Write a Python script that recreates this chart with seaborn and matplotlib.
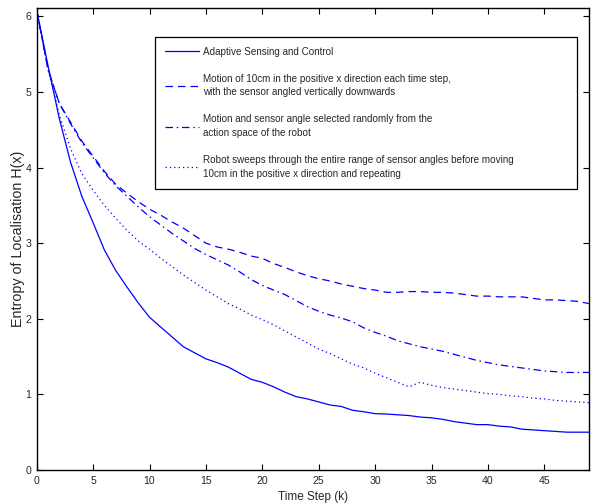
import numpy as np
import pandas as pd
import matplotlib
matplotlib.use("Agg")
import matplotlib.pyplot as plt
from matplotlib import font_manager
import seaborn as sns

steps = list(range(50))

adaptive = [6.08, 5.35, 4.65, 4.07, 3.62, 3.27, 2.91, 2.64, 2.42, 2.21,
            2.02, 1.89, 1.76, 1.63, 1.55, 1.47, 1.42, 1.36, 1.28, 1.20,
            1.16, 1.10, 1.03, 0.97, 0.94, 0.90, 0.86, 0.84, 0.79, 0.77,
            0.745, 0.74, 0.73, 0.72, 0.70, 0.69, 0.67, 0.64, 0.62, 0.60,
            0.60, 0.58, 0.57, 0.54, 0.53, 0.52, 0.51, 0.50, 0.50, 0.50]

vertical = [6.08, 5.30, 4.85, 4.60, 4.35, 4.15, 3.95, 3.78, 3.66, 3.55,
            3.45, 3.37, 3.28, 3.20, 3.10, 3.00, 2.95, 2.92, 2.88, 2.83,
            2.80, 2.73, 2.68, 2.62, 2.57, 2.53, 2.50, 2.46, 2.43, 2.40,
            2.38, 2.35, 2.35, 2.36, 2.36, 2.35, 2.35, 2.34, 2.32, 2.30,
            2.30, 2.29, 2.29, 2.29, 2.27, 2.25, 2.25, 2.24, 2.23, 2.20]

random_sel = [6.08, 5.30, 4.85, 4.58, 4.33, 4.13, 3.93, 3.76, 3.62, 3.48,
              3.35, 3.24, 3.13, 3.03, 2.93, 2.85, 2.78, 2.71, 2.62, 2.52,
              2.44, 2.38, 2.32, 2.24, 2.16, 2.10, 2.05, 2.01, 1.96, 1.88,
              1.82, 1.77, 1.71, 1.67, 1.63, 1.60, 1.57, 1.53, 1.49, 1.45,
              1.42, 1.39, 1.37, 1.35, 1.33, 1.31, 1.30, 1.29, 1.29, 1.29]

sweep = [6.08, 5.30, 4.70, 4.25, 3.92, 3.70, 3.50, 3.33, 3.17, 3.03,
         2.92, 2.80, 2.69, 2.58, 2.48, 2.38, 2.29, 2.20, 2.13, 2.05,
         1.99, 1.92, 1.84, 1.76, 1.68, 1.60, 1.54, 1.47, 1.40, 1.35,
         1.28, 1.22, 1.16, 1.10, 1.16, 1.12, 1.09, 1.07, 1.05, 1.03,
         1.01, 1.00, 0.98, 0.97, 0.95, 0.94, 0.92, 0.91, 0.90, 0.89]

labels = [
    "Adaptive Sensing and Control",
    "Motion of 10cm in the positive x direction each time step,\nwith the sensor angled vertically downwards",
    "Motion and sensor angle selected randomly from the\naction space of the robot",
    "Robot sweeps through the entire range of sensor angles before moving\n10cm in the positive x direction and repeating",
]
xticks = [0, 5, 10, 15, 20, 25, 30, 35, 40, 45]
yticks = [0, 1, 2, 3, 4, 5, 6]

sns.set_theme(style="ticks")
plt.rcParams['font.family'] = ['Liberation Sans', 'DejaVu Sans']
plt.rcParams['xtick.direction'] = 'in'
plt.rcParams['ytick.direction'] = 'in'

try:
    font_manager.findfont('Liberation Sans Narrow', fallback_to_default=False)
    narrow = True
except Exception:
    narrow = False

if narrow:
    hfam = ['Liberation Sans Narrow', 'Liberation Sans']
    tick_fs, xlab_fs, leg_fs = 8.5, 10, 8.7
else:
    hfam = ['Liberation Sans', 'DejaVu Sans']
    tick_fs, xlab_fs, leg_fs = 7.6, 8.5, 7.15

fig = plt.figure(figsize=(5.99, 5.04), dpi=100)
ax = fig.add_axes([0.0613, 0.0675, 0.9227, 0.9165])

series = [adaptive, vertical, random_sel, sweep]
styles = ['-', (0, (6, 4)), (0, (6, 3, 1.2, 3)), (0, (1, 2.5))]
for vals, lab, ls in zip(series, labels, styles):
    sns.lineplot(x=steps, y=vals, ax=ax, color='#0000ff', linewidth=0.9,
                 linestyle=ls, label=lab)

ax.set_xlim(0, 49)
ax.set_ylim(0, 6.11)
ax.set_xticks(xticks)
ax.set_yticks(yticks)
ax.tick_params(axis='both', which='both', top=True, right=True, length=4,
               width=0.8, color='black', pad=4)
for lab in ax.get_xticklabels() + ax.get_yticklabels():
    lab.set_family(hfam)
    lab.set_fontsize(tick_fs)
for s in ax.spines.values():
    s.set_linewidth(1.0)
    s.set_color('black')
ax.set_xlabel("Time Step (k)", fontsize=xlab_fs, labelpad=4, family=hfam)
ax.set_ylabel("Entropy of Localisation H(x)", fontsize=10.3, labelpad=0)

leg = ax.legend(loc='upper left', bbox_to_anchor=(0.214, 0.5, 0.763, 0.438),
                mode='expand', prop={'family': hfam, 'size': leg_fs},
                frameon=True, fancybox=False, framealpha=1, edgecolor='black',
                handlelength=3.4, borderpad=1.0, labelspacing=1.72,
                handletextpad=0.45, borderaxespad=0)
for t in leg.get_texts():
    t.set_linespacing(1.45)
leg.get_frame().set_linewidth(0.9)

fig.savefig("out.png", dpi=100)
